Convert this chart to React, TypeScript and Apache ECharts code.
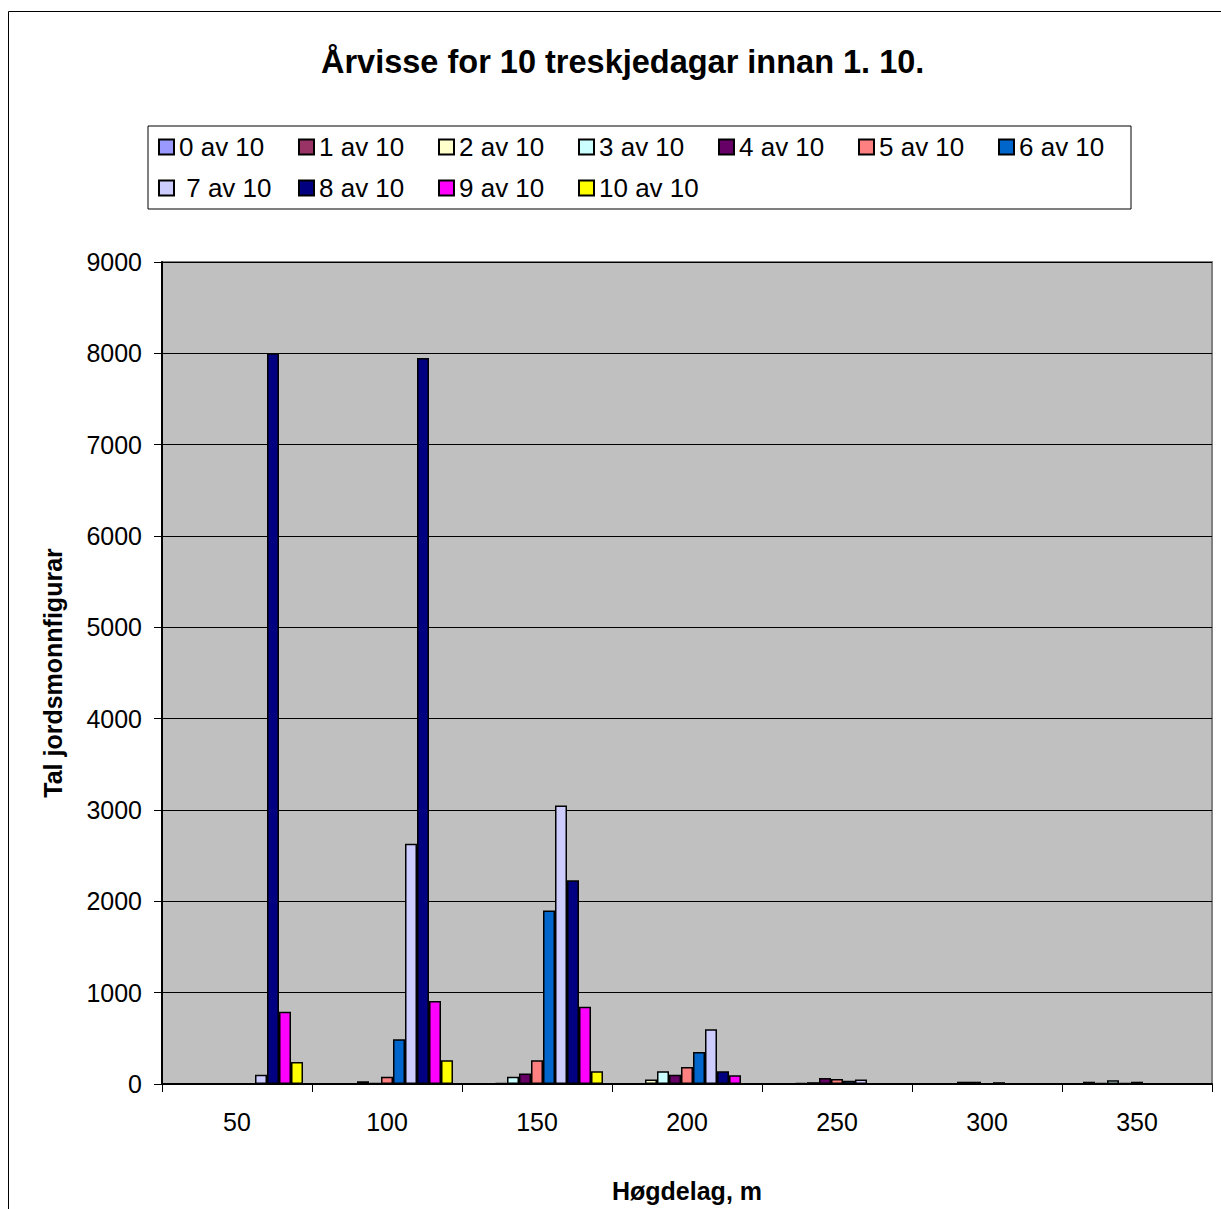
import React, { useEffect, useRef } from "react";
import * as echarts from "echarts";

const categories = ["50", "100", "150", "200", "250", "300", "350"];

const seriesNames = [
  "0 av 10",
  "1 av 10",
  "2 av 10",
  "3 av 10",
  "4 av 10",
  "5 av 10",
  "6 av 10",
  " 7 av 10",
  "8 av 10",
  "9 av 10",
  "10 av 10",
];

const seriesColors = [
  "#9999FF",
  "#993366",
  "#FFFFCC",
  "#CCFFFF",
  "#660066",
  "#FF8080",
  "#0066CC",
  "#CCCCFF",
  "#000080",
  "#FF00FF",
  "#FFFF00",
];

const av0 = [0, 0, 0, 0, 0, 5, 0];
const av1 = [0, 0, 0, 0, 5, 5, 25];
const av2 = [0, 5, 10, 50, 10, 5, 10];
const av3 = [0, 30, 80, 140, 20, 25, 40];
const av4 = [0, 10, 115, 100, 65, 25, 10];
const av5 = [0, 80, 260, 185, 55, 5, 25];
const av6 = [0, 490, 1900, 350, 35, 20, 5];
const av7 = [100, 2630, 3050, 600, 50, 0, 0];
const av8 = [8000, 7950, 2230, 140, 0, 0, 0];
const av9 = [790, 910, 845, 95, 0, 0, 0];
const av10 = [240, 260, 140, 5, 0, 0, 0];

const seriesValues = [av0, av1, av2, av3, av4, av5, av6, av7, av8, av9, av10];

const FONT = "'Liberation Sans', Arial, sans-serif";

export default function App() {
  const ref = useRef<HTMLDivElement>(null);

  useEffect(() => {
    document.body.style.margin = "0";
    if (!ref.current) return;
    const chart = echarts.init(ref.current, undefined, { renderer: "svg" });

    const option = {
      animation: false,
      backgroundColor: "#FFFFFF",
      textStyle: { fontFamily: FONT },
      title: {
        text: "Årvisse for 10 treskjedagar innan 1. 10.",
        left: 321,
        top: 45,
        padding: 0,
        textStyle: {
          fontFamily: FONT,
          fontSize: 32.5,
          fontWeight: "bold",
          color: "#000",
        },
      },
      legend: {
        left: 148,
        top: 126,
        width: 1000,
        padding: [8, 8, 8, 10],
        itemGap: 15,
        itemWidth: 15,
        itemHeight: 15,
        icon: "rect",
        borderColor: "#000",
        borderWidth: 1,
        itemStyle: { borderColor: "#000", borderWidth: 2 },
        textStyle: {
          fontFamily: FONT,
          fontSize: 26,
          color: "#000",
          width: 104,
          lineHeight: 25,
        },
        data: seriesNames,
      },
      grid: {
        left: 162,
        right: 9,
        top: 262,
        bottom: 125,
        show: true,
        backgroundColor: "#C0C0C0",
        borderColor: "#808080",
        borderWidth: 2,
      },
      xAxis: {
        type: "category",
        data: categories,
        name: "Høgdelag, m",
        nameLocation: "middle",
        nameGap: 94,
        nameTextStyle: {
          fontFamily: FONT,
          fontSize: 25,
          fontWeight: "bold",
          color: "#000",
        },
        axisLine: { show: true, lineStyle: { color: "#000", width: 2 } },
        axisTick: { show: true, length: 8, lineStyle: { color: "#000", width: 1 } },
        axisLabel: {
          margin: 25,
          fontFamily: FONT,
          fontSize: 25,
          color: "#000",
        },
      },
      yAxis: {
        type: "value",
        min: 0,
        max: 9000,
        interval: 1000,
        name: "Tal jordsmonnfigurar",
        nameLocation: "middle",
        nameGap: 97,
        nameTextStyle: {
          fontFamily: FONT,
          fontSize: 25,
          fontWeight: "bold",
          color: "#000",
        },
        axisLine: { show: true, lineStyle: { color: "#000", width: 2 } },
        axisTick: { show: true, length: 8, lineStyle: { color: "#000", width: 1 } },
        axisLabel: {
          margin: 20,
          fontFamily: FONT,
          fontSize: 25,
          color: "#000",
          formatter: (v: number) => String(v),
        },
        splitLine: { show: true, lineStyle: { color: "#000", width: 1 } },
      },
      graphic: [
        {
          type: "rect",
          shape: { x: 8.5, y: 11.5, width: 1400, height: 1400 },
          style: { fill: "none", stroke: "#000", lineWidth: 1 },
          silent: true,
          z: -10,
        },
      ],
      series: seriesNames.map((name, i) => ({
        name,
        type: "bar",
        data: seriesValues[i],
        barGap: "0%",
        barCategoryGap: "12%",
        itemStyle: {
          color: seriesColors[i],
          borderColor: "#000",
          borderWidth: 1.5,
        },
      })),
    };

    chart.setOption(option);
    return () => chart.dispose();
  }, []);

  return <div ref={ref} style={{ width: 1221, height: 1209 }} />;
}
